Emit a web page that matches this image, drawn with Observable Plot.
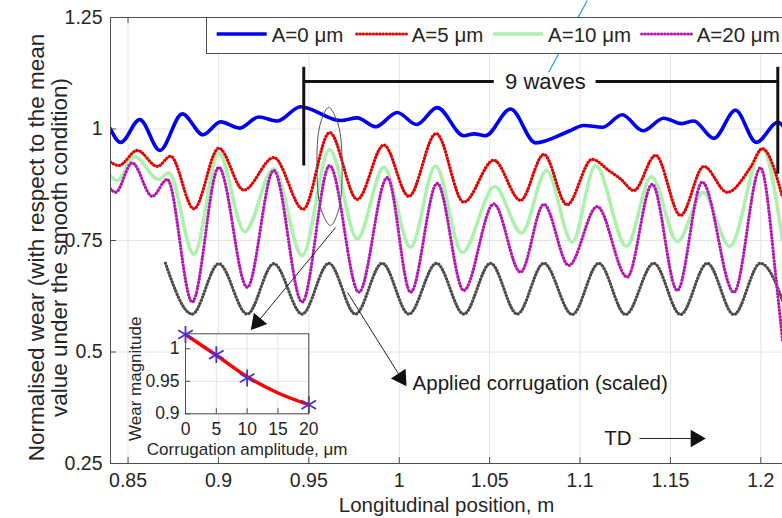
<!DOCTYPE html>
<html><head><meta charset="utf-8">
<script src="https://cdn.jsdelivr.net/npm/d3@7"></script>
<script src="https://cdn.jsdelivr.net/npm/@observablehq/plot@0.6"></script>
<style>
body{margin:0;background:#fff;}
#wrap{position:relative;width:782px;height:518px;overflow:hidden;}
#wrap svg{display:block;}
#insetBox{position:absolute;left:120px;top:315px;width:250px;height:150px;}
</style></head><body><div id="wrap"><div id="insetBox"></div></div>
<script>
// ---- data ----
const xTicks = [0.85, 0.9, 0.95, 1, 1.05, 1.1, 1.15, 1.2];
const yTicks = [0.25, 0.5, 0.75, 1, 1.25];
const xDomain = [0.8403, 1.2120];
const yDomain = [0.25, 1.25];

const wearA0 = [[0.8403,1.000],[0.8459,0.970],[0.8565,1.021],[0.8676,0.952],[0.8800,1.034],[0.8915,0.987],[0.9012,1.016],[0.9116,1.002],[0.9223,1.027],[0.9325,1.018],[0.9454,1.050],[0.9675,1.019],[0.9768,1.025],[0.9869,1.005],[0.9989,1.037],[1.0096,1.010],[1.0210,1.048],[1.0357,0.985],[1.0416,0.989],[1.0477,0.985],[1.0616,1.045],[1.0754,0.969],[1.0938,0.995],[1.1020,1.008],[1.1125,1.004],[1.1233,1.032],[1.1348,0.996],[1.1463,1.024],[1.1561,1.012],[1.1629,1.018],[1.1740,0.979],[1.1860,1.042],[1.1975,0.970],[1.2095,1.015],[1.2120,1.008]];
const wearA5 = [[0.8403,0.926],[0.8449,0.918],[0.8551,0.952],[0.8662,0.916],[0.8735,0.939],[0.8864,0.821],[0.9002,0.957],[0.9140,0.863],[0.9306,0.936],[0.9469,0.820],[0.9615,0.992],[0.9768,0.842],[0.9915,0.964],[1.0053,0.849],[1.0204,0.990],[1.0357,0.836],[1.0523,0.930],[1.0671,0.840],[1.0800,0.943],[1.0928,0.830],[1.1067,0.932],[1.1159,0.907],[1.1224,0.888],[1.1298,0.862],[1.1418,0.941],[1.1556,0.806],[1.1685,0.916],[1.1814,0.858],[1.1943,0.914],[1.2008,0.956],[1.2120,0.847]];
const wearA10 = [[0.8403,0.894],[0.8440,0.885],[0.8536,0.938],[0.8669,0.887],[0.8726,0.902],[0.8864,0.719],[0.9002,0.946],[0.9145,0.770],[0.9306,0.911],[0.9463,0.716],[0.9615,0.954],[0.9768,0.754],[0.9915,0.914],[1.0063,0.735],[1.0201,0.917],[1.0348,0.723],[1.0528,0.871],[1.0677,0.767],[1.0815,0.907],[1.0957,0.746],[1.1086,0.918],[1.1257,0.737],[1.1395,0.893],[1.1539,0.748],[1.1680,0.858],[1.1828,0.737],[1.2008,0.956],[1.2120,0.750]];
const wearA20 = [[0.8403,0.866],[0.8431,0.858],[0.8523,0.924],[0.8634,0.849],[0.8717,0.887],[0.8855,0.612],[0.9002,0.914],[0.9159,0.645],[0.9306,0.907],[0.9463,0.612],[0.9615,0.918],[0.9777,0.634],[0.9934,0.891],[1.0063,0.634],[1.0210,0.878],[1.0357,0.638],[1.0523,0.832],[1.0671,0.679],[1.0800,0.831],[1.0938,0.694],[1.1095,0.826],[1.1261,0.668],[1.1399,0.876],[1.1538,0.638],[1.1676,0.881],[1.1851,0.634],[1.1998,0.913],[1.2091,0.638],[1.2120,0.526]];
const corrugation = [[0.8707,0.699],[0.8855,0.585],[0.9002,0.698],[0.9159,0.585],[0.9306,0.698],[0.9463,0.585],[0.9611,0.699],[0.9758,0.585],[0.9906,0.699],[1.0053,0.585],[1.0206,0.699],[1.0357,0.585],[1.0505,0.699],[1.0653,0.585],[1.0800,0.699],[1.0957,0.584],[1.1104,0.699],[1.1252,0.584],[1.1408,0.699],[1.1556,0.584],[1.1704,0.699],[1.1851,0.584],[1.1998,0.699],[1.2148,0.584]];

const insetAmp = [0, 5, 10, 20];
const insetWear = [1.022, 0.991, 0.955, 0.914];
const insetFitAmp = [0, 5, 10, 15, 20];
const insetFitWear = [1.022, 0.990, 0.957, 0.932, 0.914];
const insetXTicks = [0, 5, 10, 15, 20];
const insetYTicks = [0.9, 0.95, 1];

const legendLabels = ["A=0 \u03bcm", "A=5 \u03bcm", "A=10 \u03bcm", "A=20 \u03bcm"];

// annotations (data units)
const ellipsePts = [[0.9609,1.0482],[0.9663,1.0094],[0.9684,0.9159],[0.9667,0.8224],[0.9620,0.7836],[0.9566,0.8224],[0.9545,0.9159],[0.9562,1.0094]];
const bracketSegs = [
  {x1:0.9472,y1:1.1395,x2:0.9472,y2:0.9182},
  {x1:1.2094,y1:1.1395,x2:1.2094,y2:0.8996},
  {x1:0.9472,y1:1.1065,x2:1.0523,y2:1.1065},
  {x1:1.1086,y1:1.1065,x2:1.2094,y2:1.1065}
];
const arrowSegs = [
  {x1:0.9648,y1:0.7791,x2:0.9215,y2:0.5665,rot:-140},
  {x1:0.9714,y1:0.6334,x2:1.0010,y2:0.4420,rot:147},
  {x1:1.1329,y1:0.3061,x2:1.1640,y2:0.3061,rot:90}
];
const cyanSeg = [{x1:1.104,y1:1.2881,x2:1.0827,y2:1.1274}];
const centerNotes = [
  {x:1.0809, y:1.1065, text:"9 waves", size:22},
  {x:1.1210, y:0.3061, text:"TD", size:20.5}
];
const startNotes = [
  {x:1.0074, y:0.4294, text:"Applied corrugation (scaled)", size:20.5}
];

// ---- styles ----
const TXT = "#262626";
const FONT = "'Liberation Sans', Arial, Helvetica, sans-serif";
const series = [
  {data: corrugation, dot: "#4a4a4a", halo: "#bdbdbd"},
  {data: wearA10, solid: "#aef0ae"},
  {data: wearA5, dot: "#e00000", halo: "#ff9c9c"},
  {data: wearA20, dot: "#b018b0", halo: "#eea6ee"},
  {data: wearA0, solid: "#0000f0"}
];
const legendStyles = [series[4], series[2], series[1], series[3]];
const DASH = "0.01 3.3";

const X = d => d[0], Y = d => d[1];
const seriesMarks = series.flatMap(s => s.solid
  ? [Plot.line(s.data, {x: X, y: Y, stroke: s.solid, strokeWidth: 3.6, curve: "monotone-x", clip: true})]
  : [Plot.line(s.data, {x: X, y: Y, stroke: s.halo, strokeWidth: 2.6, curve: "monotone-x", clip: true}),
     Plot.line(s.data, {x: X, y: Y, stroke: s.dot, strokeWidth: 3.2, strokeDasharray: DASH, strokeLinecap: "round", curve: "monotone-x", clip: true})]);

const frameH = 518 - 17 - 55, frameW = 782 - 110;
const AX = "#4d4d4d";

const main = Plot.plot({
  width: 782, height: 518,
  marginLeft: 110, marginRight: 0, marginTop: 17, marginBottom: 55,
  style: {fontFamily: FONT, fontSize: "19.5px", color: TXT, background: "white", overflow: "hidden"},
  x: {domain: xDomain, ticks: xTicks, tickFormat: d => String(d), tickSize: 0, tickPadding: 10, label: null},
  y: {domain: yDomain, ticks: yTicks, tickFormat: d => String(d), tickSize: 0, tickPadding: 8, label: null},
  marks: [
    Plot.ruleX(xTicks, {x: d => d, stroke: "#e4e4e4", strokeWidth: 1}),
    Plot.ruleY(yTicks, {y: d => d, stroke: "#e4e4e4", strokeWidth: 1}),
    ...seriesMarks,
    Plot.ruleX([xDomain[0]], {x: d => d, stroke: AX}),
    Plot.ruleY([yDomain[0], yDomain[1]], {y: d => d, stroke: AX}),
    Plot.ruleX(xTicks, {x: d => d, stroke: AX, insetTop: frameH - 6}),
    Plot.ruleX(xTicks, {x: d => d, stroke: AX, insetBottom: frameH - 6}),
    Plot.ruleY(yTicks, {y: d => d, stroke: AX, insetRight: frameW - 6}),
    // annotations
    Plot.line(ellipsePts, {x: X, y: Y, stroke: "#555", strokeWidth: 1, curve: "catmull-rom-closed", fill: "none"}),
    Plot.link(bracketSegs, {x1: "x1", y1: "y1", x2: "x2", y2: "y2", stroke: "#111", strokeWidth: 3}),
    Plot.link(arrowSegs, {x1: "x1", y1: "y1", x2: "x2", y2: "y2", stroke: "#222", strokeWidth: 1}),
    Plot.dot(arrowSegs, {x: "x2", y: "y2", symbol: "triangle", r: 6.5, rotate: "rot", fill: "#111", stroke: "none"}),
    Plot.text(centerNotes, {x: "x", y: "y", text: "text", fontSize: d => d.size, textAnchor: "middle", lineAnchor: "middle", fill: "#1a1a1a"}),
    Plot.text(startNotes, {x: "x", y: "y", text: "text", fontSize: d => d.size, textAnchor: "start", lineAnchor: "middle", fill: "#1a1a1a"}),
    Plot.link(cyanSeg, {x1: "x1", y1: "y1", x2: "x2", y2: "y2", stroke: "#1a9de0", strokeWidth: 1.2, ariaLabel: "cyan-note"}),
    // axis titles
    Plot.text(["Longitudinal position, m"], {text: d => d, frameAnchor: "bottom", dy: 42, textAnchor: "middle", lineAnchor: "middle", fontSize: 20.5, fill: TXT}),
    Plot.text(["Normalised wear (with respect to the mean"], {text: d => d, frameAnchor: "left", rotate: -90, dx: -74, dy: 7, textAnchor: "middle", lineAnchor: "middle", fontSize: 22.5, fill: TXT}),
    Plot.text(["value under the smooth condition)"], {text: d => d, frameAnchor: "left", rotate: -90, dx: -51, dy: 7, textAnchor: "middle", lineAnchor: "middle", fontSize: 22.5, fill: TXT})
  ]
});

// legend (drawn on the main svg)
const svg = d3.select(main);
const lg = svg.append("g").attr("font-family", FONT).attr("font-size", 20.5).attr("fill", TXT).attr("text-anchor", "start");
lg.append("rect").attr("x", 206.5).attr("y", 17.5).attr("width", 640).attr("height", 36).attr("fill", "white").attr("stroke", AX);
const legendX = [216.7, 356.7, 493, 641.7];
legendStyles.forEach((s, i) => {
  const x0 = legendX[i], yy = 34;
  if (s.solid) {
    lg.append("line").attr("x1", x0).attr("x2", x0 + 50).attr("y1", yy).attr("y2", yy).attr("stroke", s.solid).attr("stroke-width", 3.6);
  } else {
    lg.append("line").attr("x1", x0).attr("x2", x0 + 50).attr("y1", yy).attr("y2", yy).attr("stroke", s.halo).attr("stroke-width", 2.6);
    lg.append("line").attr("x1", x0).attr("x2", x0 + 50).attr("y1", yy).attr("y2", yy).attr("stroke", s.dot).attr("stroke-width", 3.2).attr("stroke-dasharray", DASH).attr("stroke-linecap", "round");
  }
  lg.append("text").attr("x", x0 + 55).attr("y", 41.5).attr("text-anchor", "start").text(legendLabels[i]);
});
svg.selectAll("g[aria-label='cyan-note']").raise();

document.getElementById("wrap").insertBefore(main, document.getElementById("insetBox"));

// inset
const insetData = insetAmp.map((a, i) => ({a, w: insetWear[i]}));
const insetFit = insetFitAmp.map((a, i) => ({a, w: insetFitWear[i]}));
const inset = Plot.plot({
  width: 250, height: 150,
  marginLeft: 65, marginRight: 61.7, marginTop: 18.3, marginBottom: 51.7,
  style: {fontFamily: FONT, fontSize: "17.5px", color: TXT, background: "transparent", overflow: "visible"},
  x: {domain: [0, 20], ticks: insetXTicks, tickFormat: d => String(d), tickSize: 0, tickPadding: 9, label: null},
  y: {domain: [0.9, 1.0231], ticks: insetYTicks, tickFormat: d => String(d), tickSize: 0, tickPadding: 6, label: null},
  marks: [
    Plot.frame({fill: "white", stroke: "none"}),
    Plot.ruleX(insetXTicks, {x: d => d, stroke: "#e4e4e4"}),
    Plot.ruleY(insetYTicks, {y: d => d, stroke: "#e4e4e4"}),
    Plot.line(insetFit, {x: "a", y: "w", stroke: "#ff0000", strokeWidth: 3.5, curve: "monotone-x"}),
    Plot.dot(insetData, {x: "a", y: "w", symbol: "asterisk", r: 8, stroke: "#4a2fd4", strokeWidth: 1.8}),
    Plot.frame({stroke: AX, fill: "none"}),
    Plot.ruleX(insetXTicks, {x: d => d, stroke: AX, insetTop: 75}),
    Plot.ruleY(insetYTicks, {y: d => d, stroke: AX, insetRight: 118}),
    Plot.text(["Corrugation amplitude, \u03bcm"], {text: d => d, frameAnchor: "bottom", dy: 36, textAnchor: "middle", lineAnchor: "middle", fontSize: 17, fill: TXT}),
    Plot.text(["Wear magnitude"], {text: d => d, frameAnchor: "left", rotate: -90, dx: -50, dy: 5, textAnchor: "middle", lineAnchor: "middle", fontSize: 17, fill: TXT})
  ]
});
document.getElementById("insetBox").appendChild(inset);
</script>
</body></html>
